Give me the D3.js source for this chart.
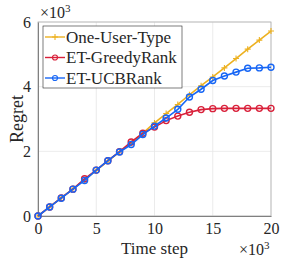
<!DOCTYPE html>
<html>
<head>
<meta charset="utf-8">
<script src="https://cdn.jsdelivr.net/npm/d3@7"></script>
<style>
  body { margin: 0; background: #fff; }
</style>
</head>
<body>
<div id="chart"></div>
<script>
// time steps in thousands
const steps = d3.range(0, 21);
const oneUserType = [0, 0.28, 0.56, 0.84, 1.12, 1.41, 1.70, 1.98, 2.25, 2.56, 2.88, 3.17, 3.45, 3.75, 4.03, 4.30, 4.58, 4.87, 5.16, 5.44, 5.72];
const etGreedy = [0, 0.28, 0.56, 0.83, 1.15, 1.42, 1.71, 1.99, 2.29, 2.56, 2.75, 2.95, 3.09, 3.21, 3.29, 3.32, 3.33, 3.33, 3.33, 3.33, 3.33];
const etUCB = [0, 0.28, 0.55, 0.83, 1.10, 1.42, 1.71, 1.98, 2.21, 2.52, 2.78, 3.03, 3.30, 3.68, 3.92, 4.19, 4.33, 4.45, 4.57, 4.58, 4.60];
const seriesNames = ["One-User-Type", "ET-GreedyRank", "ET-UCBRank"];
const xTicks = [0, 5, 10, 15, 20];
const yTicks = [0, 2, 4, 6];

const FONT = '"Liberation Serif"';
const width = 293, height = 259;
const margins = { l: 38, r: 22, t: 22, b: 43 };
const chartdims = { width: width - margins.l - margins.r, height: height - margins.t - margins.b };

const colors = ["#edb120", "#d9203a", "#1766f5"];
const series = [oneUserType, etGreedy, etUCB].map((vals, i) => ({
  name: seriesNames[i],
  color: colors[i],
  marker: i === 0 ? "plus" : "circle",
  points: steps.map((s, j) => ({ x: s, y: vals[j] }))
}));

const svg = d3.select("#chart").append("svg").attr("width", width).attr("height", height);

const xScale = d3.scaleLinear().domain([0, 20]).range([0, chartdims.width]);
const yScale = d3.scaleLinear().domain([0, 6]).range([chartdims.height, 0]);

const plotg = svg.append("g").attr("transform", `translate(${margins.l},${margins.t})`);

// grid
plotg.selectAll(".gx").data(xTicks).join("line")
  .attr("x1", d => xScale(d)).attr("x2", d => xScale(d))
  .attr("y1", 0).attr("y2", chartdims.height)
  .attr("stroke", "#e6e6e6").attr("stroke-width", 0.8);
plotg.selectAll(".gy").data(yTicks).join("line")
  .attr("x1", 0).attr("x2", chartdims.width)
  .attr("y1", d => yScale(d)).attr("y2", d => yScale(d))
  .attr("stroke", "#e6e6e6").attr("stroke-width", 0.8);

// box
plotg.append("rect").attr("width", chartdims.width).attr("height", chartdims.height)
  .attr("fill", "none").attr("stroke", "#b0b0b0").attr("stroke-width", 0.8);

const xAxis = d3.axisBottom(xScale).tickValues(xTicks).tickFormat(d3.format("d")).tickSize(0).tickPadding(7);
const yAxis = d3.axisLeft(yScale).tickValues(yTicks).tickFormat(d3.format("d")).tickSize(0).tickPadding(7);

const xaxisg = plotg.append("g").attr("transform", `translate(0,${chartdims.height})`).call(xAxis);
const yaxisg = plotg.append("g").call(yAxis);
[xaxisg, yaxisg].forEach(g => {
  g.select(".domain").attr("stroke", "#808080");
  g.selectAll("text").attr("font-size", 16).attr("fill", "#262626").style("font-family", FONT);
});

const lineGen = d3.line().x(d => xScale(d.x)).y(d => yScale(d.y));

series.forEach(s => {
  const g = plotg.append("g");
  g.append("path").attr("d", lineGen(s.points))
    .attr("fill", "none").attr("stroke", s.color).attr("stroke-width", 1.6);
  if (s.marker === "circle") {
    g.selectAll("circle").data(s.points).join("circle")
      .attr("cx", d => xScale(d.x)).attr("cy", d => yScale(d.y)).attr("r", 3)
      .attr("fill", "none").attr("stroke", s.color).attr("stroke-width", 1.4);
  } else {
    g.selectAll("path.plus").data(s.points).join("path").attr("class", "plus")
      .attr("d", d => { const x = xScale(d.x), y = yScale(d.y); return `M${x-3},${y}H${x+3}M${x},${y-3}V${y+3}`; })
      .attr("stroke", s.color).attr("stroke-width", 1.1);
  }
});

const txt = (sel) => sel.style("font-family", FONT).attr("fill", "#262626");

// axis labels
svg.append("text").attr("x", margins.l + chartdims.width / 2).attr("y", 254)
  .attr("text-anchor", "middle").attr("font-size", 17).call(txt).text("Time step");
svg.append("text").attr("transform", `translate(23,${margins.t + chartdims.height / 2}) rotate(-90)`)
  .attr("text-anchor", "middle").attr("font-size", 18).call(txt).text("Regret");

// exponent labels
const expTop = svg.append("text").attr("x", 40).attr("y", 18).attr("font-size", 16).call(txt);
expTop.append("tspan").text("\u00d710");
expTop.append("tspan").attr("dy", -6).attr("font-size", 11).text("3");
const expBot = svg.append("text").attr("x", 239).attr("y", 255).attr("font-size", 16).call(txt);
expBot.append("tspan").text("\u00d710");
expBot.append("tspan").attr("dy", -6).attr("font-size", 11).text("3");

// legend
const legend = svg.append("g").attr("transform", "translate(43,26)");
legend.append("rect").attr("width", 139).attr("height", 62)
  .attr("fill", "#fff").attr("stroke", "#262626").attr("stroke-width", 0.6);
series.forEach((s, i) => {
  const y = 11 + i * 20.5;
  const row = legend.append("g").attr("transform", `translate(0,${y})`);
  row.append("line").attr("x1", 2).attr("x2", 22).attr("y1", 0).attr("y2", 0)
    .attr("stroke", s.color).attr("stroke-width", 1.4);
  if (s.marker === "circle") {
    row.append("circle").attr("cx", 12).attr("cy", 0).attr("r", 2.5)
      .attr("fill", "none").attr("stroke", s.color).attr("stroke-width", 1.2);
  } else {
    row.append("path").attr("d", "M9,0H15M12,-3V3").attr("stroke", s.color).attr("stroke-width", 1.1);
  }
  row.append("text").attr("x", 23).attr("y", 5.5).attr("font-size", 17).call(txt).text(s.name);
});
</script>
</body>
</html>
